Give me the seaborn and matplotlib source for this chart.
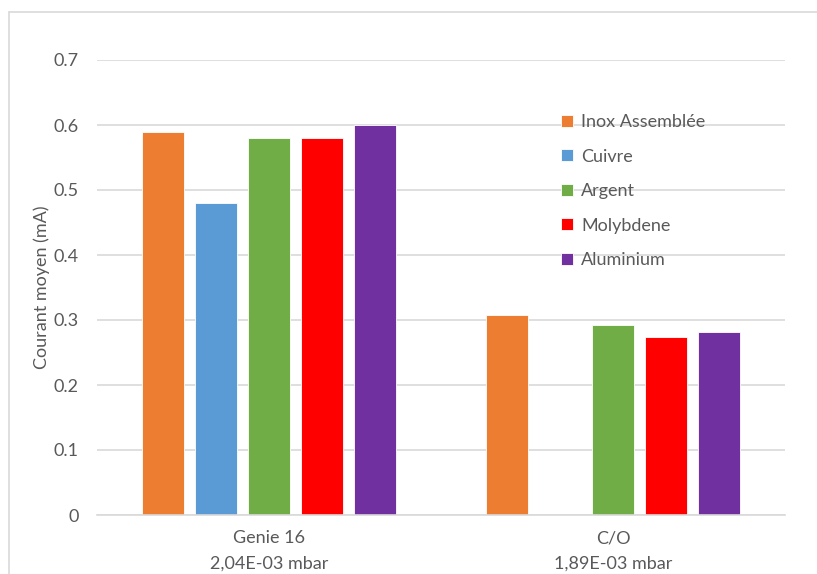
import matplotlib
matplotlib.use("Agg")
import matplotlib.pyplot as plt
from matplotlib.lines import Line2D
import seaborn as sns
import pandas as pd
import numpy as np

categories = ["Genie 16\n2,04E-03 mbar", "C/O\n1,89E-03 mbar"]
series = ["Inox Assemblée", "Cuivre", "Argent", "Molybdene", "Aluminium"]
inox = [0.589, 0.307]
cuivre = [0.48, np.nan]
argent = [0.58, 0.292]
molybdene = [0.58, 0.274]
aluminium = [0.60, 0.281]
colors = ["#ED7D31", "#5B9BD5", "#70AD47", "#FF0000", "#7030A0"]
yticks = [0, 0.1, 0.2, 0.3, 0.4, 0.5, 0.6, 0.7]
ytick_labels = ["0", "0.1", "0.2", "0.3", "0.4", "0.5", "0.6", "0.7"]

rows = []
for s, vals in zip(series, [inox, cuivre, argent, molybdene, aluminium]):
    for c, v in zip(categories, vals):
        rows.append({"cat": c, "serie": s, "val": v})
df = pd.DataFrame(rows)

sns.set_theme(style="white")
plt.rcParams["font.family"] = ["Lato", "DejaVu Sans"]

fig = plt.figure(figsize=(8.17, 5.74), dpi=100)
ax = fig.add_axes([97/817, 1-515/574, (785-97)/817, (515-60)/574])

sns.barplot(data=df, x="cat", y="val", hue="serie", order=categories,
            hue_order=series, palette=colors, saturation=1, width=0.77, gap=0.2,
            edgecolor="white", linewidth=0.6, ax=ax, errorbar=None)

ax.set_ylim(0, 0.7)
ax.set_xlim(-0.5, 1.5)
ax.set_yticks(yticks)
ax.set_yticklabels(ytick_labels)
ax.yaxis.grid(True, color="#d9d9d9", linewidth=1.2)
ax.set_axisbelow(True)
for sp in ["top", "right", "left"]:
    ax.spines[sp].set_visible(False)
ax.spines["bottom"].set_color("#d9d9d9")
ax.spines["bottom"].set_linewidth(1.2)
ax.tick_params(axis="both", length=0, colors="#595959", labelsize=13)
ax.tick_params(axis="y", pad=13)
ax.tick_params(axis="x", pad=11)
for lbl in ax.get_xticklabels():
    lbl.set_linespacing(1.75)
ax.set_xlabel("")
ax.set_ylabel("Courant moyen (mA)", color="#595959", fontsize=13, labelpad=3)

leg = ax.legend(loc="upper left", bbox_to_anchor=(545/817, 1-98/574),
                bbox_transform=fig.transFigure, frameon=False, fontsize=13,
                handlelength=0.65, handleheight=0.65, handletextpad=0.45,
                labelspacing=1.02, labelcolor="#595959")

# outer chart frame
fig.add_artist(Line2D([9/817, 9/817], [0, 1-12/574], color="#d9d9d9",
                      linewidth=1.2, transform=fig.transFigure))
fig.add_artist(Line2D([9/817, 1], [1-12/574, 1-12/574], color="#d9d9d9",
                      linewidth=1.2, transform=fig.transFigure))

fig.savefig("out.png", dpi=100)
